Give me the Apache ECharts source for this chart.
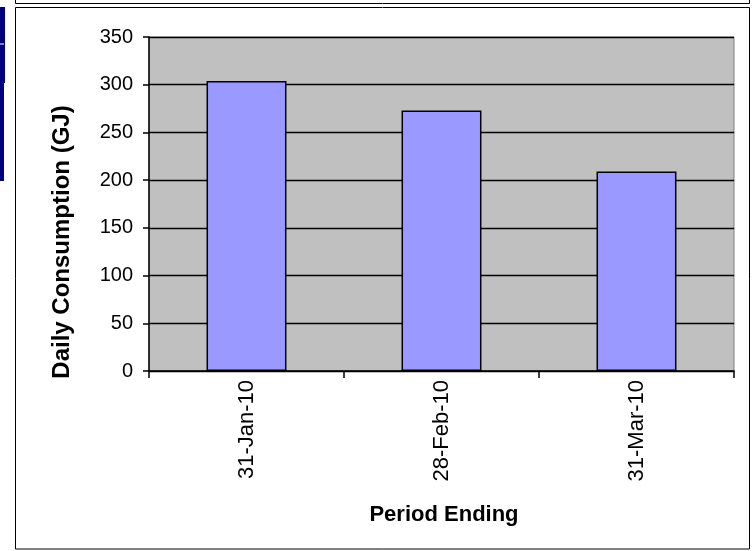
<!DOCTYPE html>
<html>
<head>
<meta charset="utf-8">
<script src="https://cdn.jsdelivr.net/npm/echarts@6/dist/echarts.min.js"></script>
<style>
  html, body { margin: 0; padding: 0; background: #fff; }
  #chart { width: 753px; height: 551px; }
</style>
</head>
<body>
<div id="chart"></div>
<script>
// Daily gas consumption per billing period
const periods = ['31-Jan-10', '28-Feb-10', '31-Mar-10'];
const dailyConsumption = [304, 273, 209];
const yTicks = [0, 50, 100, 150, 200, 250, 300, 350];

const chart = echarts.init(document.getElementById('chart'), null, { renderer: 'canvas' });
const FONT = 'Liberation Sans, Arial, sans-serif';

chart.setOption({
  animation: false,
  backgroundColor: '#ffffff',
  grid: {
    left: 149, top: 37, right: 19, bottom: 180,
    show: true,
    backgroundColor: '#c0c0c0',
    borderColor: '#808080',
    borderWidth: 1
  },
  xAxis: {
    type: 'category',
    data: periods,
    boundaryGap: true,
    axisLine: { lineStyle: { color: '#000', width: 1.5 } },
    axisTick: { show: true, alignWithLabel: false, length: 7, lineStyle: { color: '#000', width: 1.5 } },
    axisLabel: {
      rotate: 90,
      margin: 9,
      color: '#000',
      fontFamily: FONT,
      fontSize: 22
    }
  },
  yAxis: {
    type: 'value',
    min: yTicks[0],
    max: yTicks[yTicks.length - 1],
    interval: yTicks[1] - yTicks[0],
    axisLine: { show: true, lineStyle: { color: '#000', width: 1.5 } },
    axisTick: { show: true, length: 6, lineStyle: { color: '#000', width: 1.5 } },
    axisLabel: {
      margin: 16,
      color: '#000',
      fontFamily: FONT,
      fontSize: 20
    },
    splitLine: { show: true, lineStyle: { color: '#000', width: 1.3 } }
  },
  series: [{
    type: 'bar',
    data: dailyConsumption,
    barWidth: '41%',
    itemStyle: { color: '#9999ff', borderColor: '#000', borderWidth: 1.5 }
  }],
  graphic: [
    // outer frames
    { type: 'rect', silent: true, shape: { x: 15.5, y: -5, width: 734, height: 8.5 },
      style: { fill: 'none', stroke: '#000', lineWidth: 1 } },
    { type: 'rect', silent: true, shape: { x: 15.5, y: 7.5, width: 734, height: 541.5 },
      style: { fill: 'none', stroke: '#000', lineWidth: 1 } },
    // navy strip along the left edge
    { type: 'rect', silent: true, shape: { x: 0, y: 7, width: 5, height: 76 },
      style: { fill: '#000080' } },
    { type: 'rect', silent: true, shape: { x: 0, y: 83, width: 4, height: 98 },
      style: { fill: '#000080' } },
    { type: 'rect', silent: true, shape: { x: 0, y: 43.5, width: 4, height: 1 },
      style: { fill: '#ffffff' } },
    // axis titles
    { type: 'text', silent: true, x: 62, y: 242, rotation: Math.PI / 2,
      style: { text: 'Daily Consumption (GJ)', fontFamily: FONT, fontWeight: 'bold',
               fontSize: 24, fill: '#000', align: 'center', verticalAlign: 'middle' } },
    { type: 'text', silent: true, x: 444, y: 515,
      style: { text: 'Period Ending', fontFamily: FONT, fontWeight: 'bold',
               fontSize: 22, fill: '#000', align: 'center', verticalAlign: 'middle' } }
  ]
});
</script>
</body>
</html>
